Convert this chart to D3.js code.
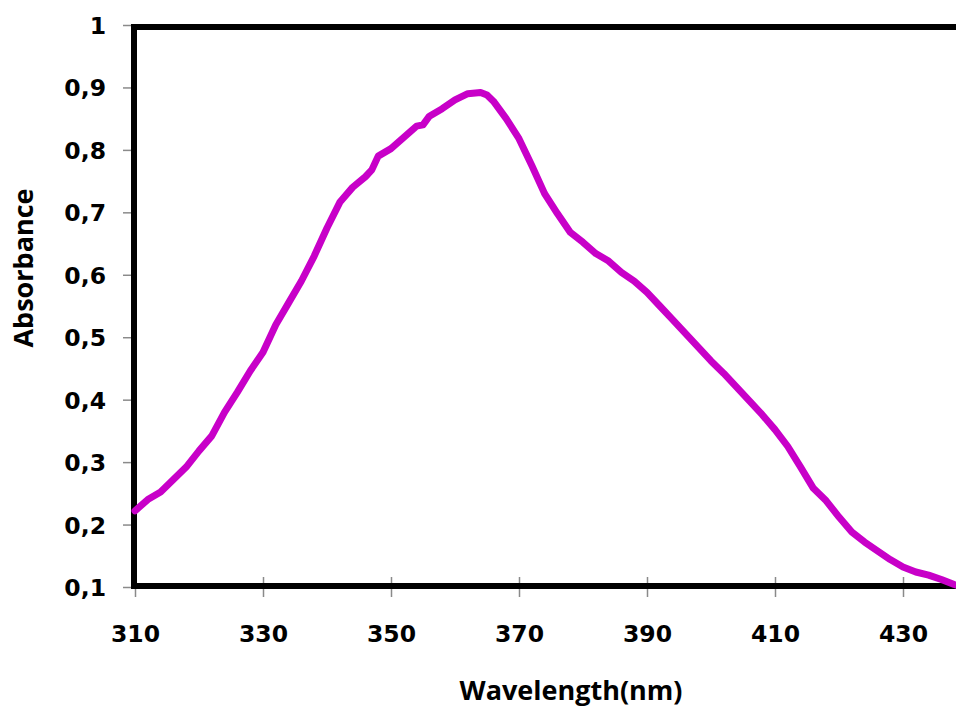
<!DOCTYPE html>
<html>
<head>
<meta charset="utf-8">
<script src="https://cdn.jsdelivr.net/npm/d3@7"></script>
<style>
  html, body { margin: 0; padding: 0; background: #fff; }
  svg { display: block; }
</style>
</head>
<body>
<svg id="chart" width="956" height="706"></svg>
<script>
// Absorption spectrum: wavelength (nm) and absorbance
const wavelengths = [310, 312, 314, 316, 318, 320, 322, 324, 326, 328,
  330, 332, 334, 336, 338, 340, 342, 344, 346, 347,
  348, 350, 352, 354, 355, 356, 358, 360, 362, 364,
  365, 366, 368, 370, 372, 374, 376, 378, 380, 382,
  384, 386, 388, 390, 392, 394, 396, 398, 400, 402,
  404, 406, 408, 410, 412, 414, 416, 418, 420, 422,
  424, 426, 428, 430, 432, 434, 436, 438, 440];
const absorbance = [0.222, 0.240, 0.252, 0.272, 0.292, 0.318, 0.342, 0.380, 0.412, 0.446,
  0.476, 0.520, 0.555, 0.590, 0.630, 0.675, 0.716, 0.740, 0.757, 0.768,
  0.790, 0.802, 0.820, 0.838, 0.840, 0.854, 0.866, 0.880, 0.890, 0.892,
  0.888, 0.878, 0.850, 0.818, 0.775, 0.730, 0.698, 0.668, 0.652, 0.634,
  0.622, 0.604, 0.590, 0.572, 0.550, 0.528, 0.506, 0.484, 0.462, 0.442,
  0.420, 0.398, 0.376, 0.352, 0.325, 0.292, 0.258, 0.238, 0.212, 0.188,
  0.172, 0.158, 0.144, 0.132, 0.124, 0.119, 0.112, 0.104, 0.098];

const xTicks = [310, 330, 350, 370, 390, 410, 430];
const yTicks = [0.1, 0.2, 0.3, 0.4, 0.5, 0.6, 0.7, 0.8, 0.9, 1];
const xTitle = "Wavelength(nm)";
const yTitle = "Absorbance";

const svg = d3.select("#chart");

const x = d3.scaleLinear().domain([310, 440]).range([135, 967]);
const y = d3.scaleLinear().domain([0.1, 1]).range([587, 25]);

const fmt = d3.formatLocale({ decimal: ",", thousands: " ", grouping: [3], currency: ["", ""] }).format("~g");

const tickFont = "'DejaVu Sans', sans-serif";
const titleFont = "'Open Sans', sans-serif";

// Y axis: outward ticks and labels
const yAxis = svg.append("g")
  .attr("transform", `translate(${x.range()[0]},0)`)
  .call(d3.axisLeft(y).tickValues(yTicks).tickSize(12).tickPadding(17).tickFormat(fmt));
yAxis.select(".domain").remove();
yAxis.selectAll(".tick line").attr("stroke", "#8a8a8a").attr("stroke-width", 1.5);
yAxis.selectAll(".tick text")
  .attr("fill", "#000")
  .attr("font-family", tickFont)
  .attr("font-weight", "bold")
  .attr("font-size", 23.5)
  .attr("dy", "0.36em");

// X axis: cross ticks and labels
const xAxis = svg.append("g")
  .attr("transform", `translate(0,${y.range()[0]})`)
  .call(d3.axisBottom(x).tickValues(xTicks).tickSize(10).tickPadding(37).tickFormat(d3.format("d")));
xAxis.select(".domain").remove();
xAxis.selectAll(".tick line")
  .attr("y1", -10)
  .attr("stroke", "#8a8a8a").attr("stroke-width", 1.5);
xAxis.selectAll(".tick text")
  .attr("fill", "#000")
  .attr("font-family", tickFont)
  .attr("font-weight", "bold")
  .attr("font-size", 23.5)
  .attr("dy", "0.36em");

// Plot area frame
const [x0, x1] = x.range();
const [yb, yt] = y.range();
svg.append("rect")
  .attr("x", x0 - 1).attr("y", yt + 2)
  .attr("width", x1 - x0).attr("height", yb - yt - 3)
  .attr("fill", "none")
  .attr("stroke", "#000")
  .attr("stroke-width", 6);

// Spectrum line
const line = d3.line()
  .x((d, i) => x(wavelengths[i]))
  .y(d => y(d))
  .curve(d3.curveLinear);

svg.append("path")
  .datum(absorbance)
  .attr("d", line)
  .attr("fill", "none")
  .attr("stroke", "#c800c8")
  .attr("stroke-width", 7)
  .attr("stroke-linejoin", "round")
  .attr("stroke-linecap", "round");

// Axis titles
svg.append("text")
  .attr("x", 571)
  .attr("y", 700)
  .attr("text-anchor", "middle")
  .attr("font-family", titleFont)
  .attr("font-weight", "bold")
  .attr("font-size", 27)
  .attr("fill", "#000")
  .text(xTitle);

svg.append("text")
  .attr("transform", "translate(33,268) rotate(-90)")
  .attr("text-anchor", "middle")
  .attr("font-family", titleFont)
  .attr("font-weight", "bold")
  .attr("font-size", 27)
  .attr("fill", "#000")
  .text(yTitle);
</script>
</body>
</html>
